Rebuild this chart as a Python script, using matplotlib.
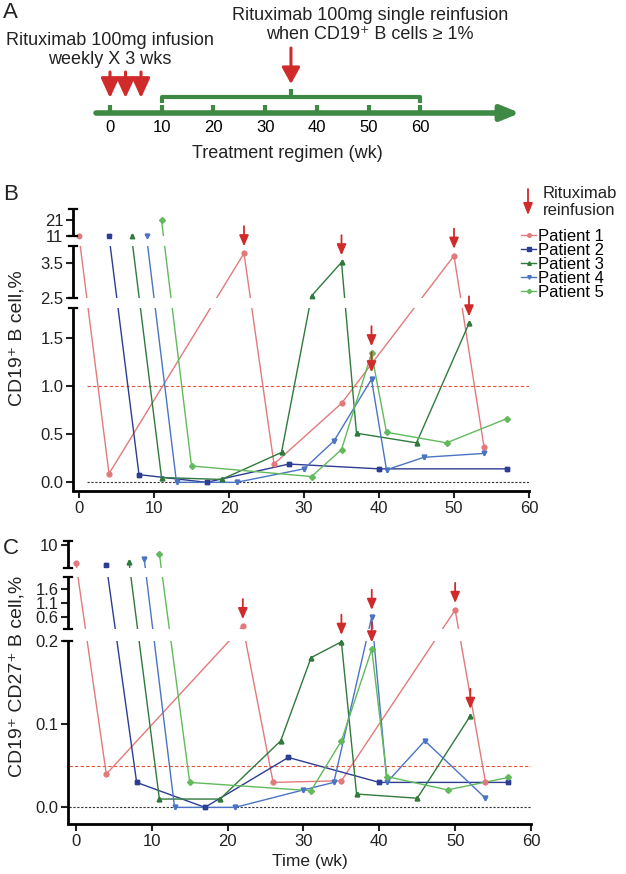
import numpy as np
import matplotlib.pyplot as plt

plt.rcParams['font.family'] = ['Liberation Sans', 'DejaVu Sans']

# ---- data ----
patients = ['Patient 1', 'Patient 2', 'Patient 3', 'Patient 4', 'Patient 5']
colors = ['#e27a7c', '#2c3d92', '#2f7a3c', '#4b74c4', '#62ba5c']
markers = ['o', 's', '^', 'v', 'D']

weeks = [
    [0, 4, 22, 26, 35, 50, 54],
    [4, 8, 17, 28, 40, 57],
    [7, 11, 19, 27, 31, 35, 37, 45, 52],
    [9, 13, 21, 30, 34, 39, 41, 46, 54],
    [11, 15, 31, 35, 39, 41, 49, 57],
]

# CD19+ B cells, %
cd19 = [
    [11, 0.09, 3.79, 0.19, 0.82, 3.72, 0.37],
    [11, 0.08, 0.0, 0.19, 0.14, 0.14],
    [11, 0.05, 0.03, 0.31, 2.56, 3.53, 0.51, 0.41, 1.65],
    [11, 0.0, 0.0, 0.14, 0.43, 1.07, 0.13, 0.26, 0.30],
    [21, 0.17, 0.06, 0.34, 1.34, 0.52, 0.41, 0.66],
]

# CD19+ CD27+ B cells, %
cd27 = [
    [8.05, 0.04, 0.30, 0.03, 0.032, 0.86, 0.03],
    [7.85, 0.03, 0.0, 0.06, 0.03, 0.03],
    [8.1, 0.01, 0.01, 0.08, 0.18, 0.199, 0.016, 0.011, 0.11],
    [8.45, 0.0, 0.0, 0.021, 0.03, 0.62, 0.03, 0.08, 0.011],
    [9.0, 0.03, 0.02, 0.08, 0.19, 0.037, 0.021, 0.036],
]

# weeks with a reinfusion, per patient
reinfusions = [[22, 50], [], [35, 52], [39], [39]]

cd19_threshold = 1.0
cd27_threshold = 0.05

# broken y axes: data break values and their heights (px) above the x axis
b_breaks = [-0.09, 1.81, 2.5, 4.0, 11, 28]
b_break_px = [0, 183, 193, 245, 255, 282]
b_ticks = [0, 0.5, 1.0, 1.5, 2.5, 3.5, 11, 21]
b_ticklabels = ['0.0', '0.5', '1.0', '1.5', '2.5', '3.5', '11', '21']

c_breaks = [-0.02, 0.2, 0.2001, 2.0, 7.5, 10.4]
c_break_px = [0, 183, 195, 247, 256, 283]
c_ticks = [0, 0.1, 0.2, 0.6, 1.1, 1.6, 10]
c_ticklabels = ['0.0', '0.1', '0.2', '0.6', '1.1', '1.6', '10']

x_ticks = [0, 10, 20, 30, 40, 50, 60]

# panel A schematic (weeks)
timeline_ticks = [0, 10, 20, 30, 40, 50, 60]
initial_doses = [0, 3, 6]
window = (10, 60)
window_mark = 35

green = '#3e8a44'
red = '#d12a2a'

W, H = 626, 874
fig = plt.figure(figsize=(W / 100, H / 100), dpi=100)


def piecewise(xp, fp):
    xp = np.asarray(xp, float)
    fp = np.asarray(fp, float)
    s0 = (fp[1] - fp[0]) / (xp[1] - xp[0])
    s1 = (fp[-1] - fp[-2]) / (xp[-1] - xp[-2])

    def f(v):
        v = np.asarray(v, float)
        out = np.interp(v, xp, fp)
        out = np.where(v < xp[0], fp[0] + (v - xp[0]) * s0, out)
        out = np.where(v > xp[-1], fp[-1] + (v - xp[-1]) * s1, out)
        return out
    return f


def arrow_props(lw=1.3, hl=0.65, hw=0.28, ms=10):
    return dict(arrowstyle='-|>,head_length=%g,head_width=%g' % (hl, hw),
                color=red, lw=lw, shrinkA=0, shrinkB=5, mutation_scale=ms)


# ---- panel A ----
ax_a = fig.add_axes([0, 1 - 165 / H, 1, 165 / H])
ax_a.set_xlim(-110 / 5.17, (W - 110) / 5.17)
ax_a.set_ylim(165, 0)
ax_a.axis('off')

ax_a.annotate('', xy=(79.3, 113), xytext=(-2.7, 113),
              arrowprops=dict(arrowstyle='-|>,head_length=1.1,head_width=0.45',
                              color=green, lw=4, shrinkA=0, shrinkB=0,
                              mutation_scale=10))
ax_a.vlines(timeline_ticks, 105, 113, color=green, lw=3)
for t in timeline_ticks:
    ax_a.text(t, 128, str(t), ha='center', va='center', fontsize=12)
ax_a.plot([window[0], window[0], window[1], window[1]], [103, 97, 97, 103],
          color=green, lw=3, solid_joinstyle='round', solid_capstyle='butt')
ax_a.plot([window_mark, window_mark], [97, 89], color=green, lw=3,
          solid_capstyle='butt')
ax_a.annotate('', xy=(window_mark, 84), xytext=(window_mark, 48),
              arrowprops=dict(arrowstyle='-|>,head_length=1.0,head_width=0.55',
                              color=red, lw=2.2, shrinkA=0, shrinkB=0,
                              mutation_scale=10))
for d in initial_doses:
    ax_a.annotate('', xy=(d, 98), xytext=(d, 72),
                  arrowprops=dict(arrowstyle='-|>,head_length=1.2,head_width=0.55',
                                  color=red, lw=2.2, shrinkA=0, shrinkB=0,
                                  mutation_scale=10))
ax_a.text(0, 50, 'Rituximab 100mg infusion\nweekly X 3 wks', ha='center',
          va='center', fontsize=13, color='#222222')
ax_a.text(50.3, 25, 'Rituximab 100mg single reinfusion\nwhen CD19\u207a B cells \u2265 1%',
          ha='center', va='center', fontsize=13, color='#222222')
ax_a.text(34.4, 153, 'Treatment regimen (wk)', ha='center', va='center',
          fontsize=13, color='#222222')


# ---- panels B and C ----
def draw_panel(ax, values, breaks, break_px, ticks, ticklabels, threshold,
               xlim, thr_x0):
    ax.set_yscale('function', functions=(piecewise(breaks, break_px),
                                         piecewise(break_px, breaks)))
    ax.set_xlim(*xlim)
    ax.set_ylim(breaks[0], breaks[-1])

    for wk, val, col, mk, name in zip(weeks, values, colors, markers, patients):
        ms = 2.8 if mk == 'D' else 3.2
        ax.plot(wk, val, color=col, lw=1.0, marker=mk, ms=ms, mec=col,
                label=name, zorder=2)
        ax.plot(wk, val, ls='none', color=col, marker=mk, ms=ms, mec=col,
                zorder=3.2)

    # hide the lines inside the breaks
    for lo, hi in [(breaks[1], breaks[2]), (breaks[3], breaks[4])]:
        ax.axhspan(lo, hi, color='white', lw=0, zorder=3)

    ax.hlines(threshold, thr_x0, 60, colors='#e4533b', lw=0.8,
              linestyles=(0, (3, 2)), zorder=1.5)
    ax.hlines(0, thr_x0, 60, colors='#333333', lw=0.8,
              linestyles=(0, (2, 1.5)), zorder=1.5)

    for wk, val, rw in zip(weeks, values, reinfusions):
        for r in rw:
            ax.annotate('', xy=(r, val[wk.index(r)]), xytext=(0, 19.5),
                        textcoords='offset points', arrowprops=arrow_props(),
                        zorder=5)

    for s in ['top', 'right', 'left']:
        ax.spines[s].set_visible(False)
    ax.spines['bottom'].set_linewidth(2)

    trans = ax.get_yaxis_transform()
    cw = 4.0 / (ax.get_position().width * W)
    for i, (lo, hi) in enumerate([(breaks[0], breaks[1]), (breaks[2], breaks[3]),
                                  (breaks[4], breaks[5])]):
        ax.plot([0, 0], [lo, hi], transform=trans, color='k', lw=2,
                clip_on=False, solid_capstyle='butt', zorder=6)
        ends = [hi] if i == 0 else [lo, hi]
        for y in ends:
            ax.plot([-cw, cw], [y, y], transform=trans, color='k', lw=1.6,
                    clip_on=False, zorder=6)

    ax.set_yticks(ticks)
    ax.set_yticklabels(ticklabels)
    ax.yaxis.set_minor_locator(plt.NullLocator())
    ax.set_xticks(x_ticks)
    ax.tick_params(axis='both', length=5, width=1.5, labelsize=12, pad=2,
                   colors='#222222')


ax_b = fig.add_axes([73 / W, (H - 491) / H, 456 / W, 282 / H])
draw_panel(ax_b, cd19, b_breaks, b_break_px, b_ticks, b_ticklabels,
           cd19_threshold, (-0.8, 60), 1)

ax_c = fig.add_axes([68 / W, (H - 824) / H, 463 / W, 283 / H])
draw_panel(ax_c, cd27, c_breaks, c_break_px, c_ticks, c_ticklabels,
           cd27_threshold, (-1.05, 60), -0.9)
ax_c.set_xlabel('Time (wk)', fontsize=12.5, color='#222222')
ax_c.xaxis.set_label_coords((310 - 68) / 463, (824 - 854) / 283)

fig.text(17 / W, 1 - 338 / H, 'CD19\u207a B cell,%', rotation=90, ha='center',
         va='center', fontsize=14, color='#222222')
fig.text(17 / W, 1 - 676 / H, 'CD19\u207a CD27\u207a B cell,%', rotation=90,
         ha='center', va='center', fontsize=14, color='#222222')

fig.text(3 / W, 1 - 13 / H, 'A', fontsize=16, va='center', color='#222222')
fig.text(3 / W, 1 - 195 / H, 'B', fontsize=16, va='center', color='#222222')
fig.text(3 / W, 1 - 548 / H, 'C', fontsize=16, va='center', color='#222222')

# legend
handles, labels = ax_b.get_legend_handles_labels()
ax_b.legend(handles, labels, loc='upper left', frameon=False, fontsize=12,
            bbox_to_anchor=(521 / W, 1 - 229 / H), bbox_transform=fig.transFigure,
            borderpad=0, borderaxespad=0, handlelength=0.9, handletextpad=0.15,
            labelspacing=-0.06, markerscale=0.8)
ax_b.annotate('', xy=(528 / W, 1 - 215 / H), xycoords='figure fraction',
              xytext=(528 / W, 1 - 189 / H), textcoords='figure fraction',
              arrowprops=dict(arrowstyle='-|>,head_length=0.7,head_width=0.28',
                              color=red, lw=1.3, shrinkA=0, shrinkB=0,
                              mutation_scale=10))
fig.text(543 / W, 1 - 202 / H, 'Rituximab\nreinfusion', fontsize=12,
         va='center', ha='left', color='#222222')

fig.savefig('out.png', dpi=100)
